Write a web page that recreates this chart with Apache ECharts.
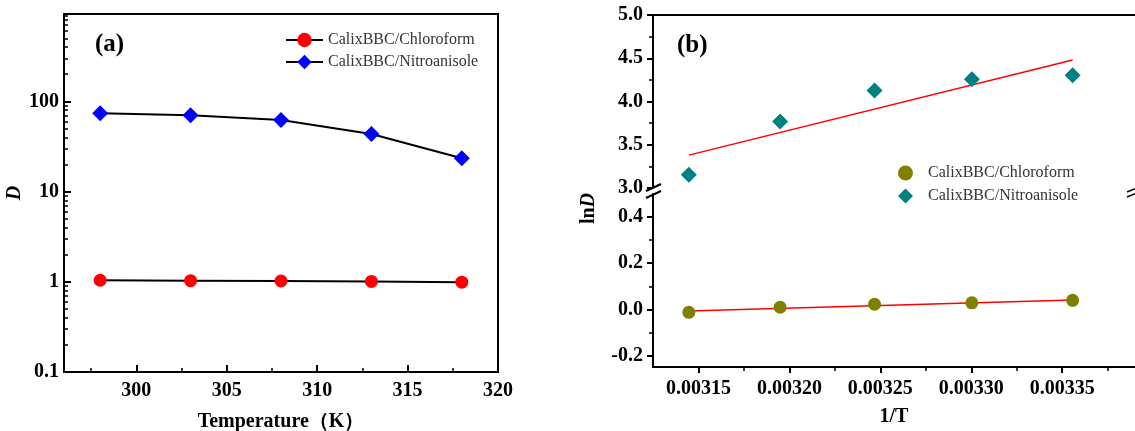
<!DOCTYPE html>
<html lang="en" style="height: 100%">
<head>
    <meta charset="UTF-8">
    <title>Distribution ratio D vs temperature</title>
    <script src="https://cdn.jsdelivr.net/npm/echarts@6/dist/echarts.min.js"></script>
</head>
<body style="height: 100%; margin: 0; background: #fff">
<div id="container" style="width: 1135px; height: 431px"></div>

<script type="text/javascript">
    // panel (a): D vs temperature
    var tempK = [298, 303, 308, 313, 318];
    var dChloroform = [1.04, 1.03, 1.02, 1.01, 0.99];
    var dNitro = [74, 70, 62, 43.5, 23.4];
    var tempTicks = [300, 305, 310, 315, 320];
    var tempMinor = [297.5, 302.5, 307.5, 312.5, 317.5];
    var dTicks = [0.1, 1, 10, 100];
    var dMinor = [0.2, 0.3, 0.4, 0.5, 0.6, 0.7, 0.8, 0.9, 2, 3, 4, 5, 6, 7, 8, 9,
        20, 30, 40, 50, 60, 70, 80, 90, 200, 300, 400, 500, 600, 700, 800, 900];

    // panel (b): lnD vs 1/T
    var invT = [0.0031447, 0.0031949, 0.0032468, 0.0033003, 0.0033557];
    var lnDChloroform = [-0.013, 0.009, 0.022, 0.028, 0.039];
    var lnDNitro = [3.153, 3.768, 4.126, 4.258, 4.304];
    var fitX = [0.0031447, 0.0033557];
    var fitChloroform = [-0.007, 0.040];
    var fitNitro = [3.38, 4.48];
    var invTTicks = [0.00315, 0.0032, 0.00325, 0.0033, 0.00335];
    var invTMinor = [0.003175, 0.003225, 0.003275, 0.003325, 0.003375];
    var lowTicks = [-0.2, 0, 0.2, 0.4];
    var lowMinor = [-0.1, 0.1, 0.3];

    var names = ['CalixBBC/Chloroform', 'CalixBBC/Nitroanisole'];
    var serif = '"Liberation Serif", "Times New Roman", serif';

    function pairs(xs, ys) {
        return xs.map(function (x, i) { return [x, ys[i]]; });
    }

    var labelStyle = {fontFamily: serif, fontWeight: 'bold', fontSize: 20, color: '#000'};
    var axisLine = {onZero: false, lineStyle: {color: '#000', width: 2}};
    var hiddenLine = {show: false, onZero: false};

    var dom = document.getElementById("container");
    var myChart = echarts.init(dom, null, {renderer: 'canvas'});

    var option = {
        backgroundColor: '#fff',
        animation: false,
        title: [
            {text: '(a)', left: 90, top: 27, textStyle: {fontFamily: serif, fontWeight: 'bold', fontSize: 25, color: '#000'}},
            {text: '(b)', left: 672, top: 28, textStyle: {fontFamily: serif, fontWeight: 'bold', fontSize: 25, color: '#000'}}
        ],
        legend: [
            {
                data: [names[0], names[1]],
                left: 285, top: 31, orient: 'vertical', padding: 0,
                itemWidth: 37, itemHeight: 18, itemGap: 4,
                textStyle: {fontFamily: serif, fontSize: 16, color: '#333', lineHeight: 18}
            },
            {
                data: [names[0] + ' ', names[1] + ' '],
                left: 898, top: 165, orient: 'vertical', padding: 0,
                itemWidth: 15, itemHeight: 15, itemGap: 7, symbolKeepAspect: true,
                textStyle: {fontFamily: serif, fontSize: 16, color: '#333', padding: [0, 0, 0, 10]}
            }
        ],
        grid: [
            {left: 64, top: 14, width: 434, height: 358, outerBoundsMode: 'none',
                show: true, borderColor: '#000', borderWidth: 2},
            {left: 653, top: 15, width: 482, height: 173, outerBoundsMode: 'none'},
            {left: 653, top: 194, width: 482, height: 173, outerBoundsMode: 'none'}
        ],
        xAxis: [
            {
                gridIndex: 0, type: 'value', min: 296, max: 320, position: 'bottom',
                name: 'Temperature（K）', nameLocation: 'middle', nameGap: 40,
                nameTextStyle: {fontFamily: serif, fontWeight: 'bold', fontSize: 20, color: '#000'},
                axisLine: axisLine,
                axisTick: {inside: true, length: 7, customValues: tempTicks, lineStyle: {color: '#000', width: 2}},
                axisLabel: Object.assign({margin: 9, customValues: tempTicks}, labelStyle),
                splitLine: {show: false}
            },
            {
                gridIndex: 0, type: 'value', min: 296, max: 320, position: 'bottom',
                axisLine: hiddenLine,
                axisTick: {inside: true, length: 4, customValues: tempMinor, lineStyle: {color: '#000', width: 1.5}},
                axisLabel: {show: false}, splitLine: {show: false}
            },
            {
                gridIndex: 1, type: 'value', min: 0.003125, max: 0.00339, position: 'top',
                axisLine: axisLine, axisTick: {show: false}, axisLabel: {show: false}, splitLine: {show: false}
            },
            {
                gridIndex: 2, type: 'value', min: 0.003125, max: 0.00339, position: 'bottom',
                name: '1/T', nameLocation: 'middle', nameGap: 40,
                nameTextStyle: {fontFamily: serif, fontWeight: 'bold', fontSize: 20, color: '#000'},
                axisLine: axisLine,
                axisTick: {length: 6, customValues: invTTicks, lineStyle: {color: '#000', width: 2}},
                axisLabel: Object.assign({margin: 12, customValues: invTTicks, formatter: function (v) { return v.toFixed(5); }}, labelStyle),
                splitLine: {show: false}
            },
            {
                gridIndex: 2, type: 'value', min: 0.003125, max: 0.00339, position: 'bottom',
                axisLine: hiddenLine,
                axisTick: {length: 4, customValues: invTMinor, lineStyle: {color: '#000', width: 1.5}},
                axisLabel: {show: false}, splitLine: {show: false}
            }
        ],
        yAxis: [
            {
                gridIndex: 0, type: 'log', logBase: 10, min: 0.1, max: 930, position: 'left',
                name: 'D', nameLocation: 'middle', nameGap: 39,
                nameTextStyle: {fontFamily: serif, fontWeight: 'bold', fontStyle: 'italic', fontSize: 20, color: '#000'},
                axisLine: axisLine,
                axisTick: {inside: true, length: 7, customValues: dTicks, lineStyle: {color: '#000', width: 2}},
                axisLabel: Object.assign({margin: 5, customValues: dTicks, formatter: function (v) { return String(v); }}, labelStyle),
                splitLine: {show: false}
            },
            {
                gridIndex: 0, type: 'log', logBase: 10, min: 0.1, max: 930, position: 'left',
                axisLine: hiddenLine,
                axisTick: {inside: true, length: 4, customValues: dMinor, lineStyle: {color: '#000', width: 1.5}},
                axisLabel: {show: false}, splitLine: {show: false}
            },
            {
                gridIndex: 1, type: 'value', min: 3.0, max: 5.0, interval: 0.5, position: 'left',
                axisLine: axisLine,
                axisTick: {length: 6, lineStyle: {color: '#000', width: 2}},
                minorTick: {show: true, splitNumber: 2, length: 4, lineStyle: {color: '#000', width: 1.5}},
                axisLabel: Object.assign({margin: 10, formatter: function (v) { return v.toFixed(1); }}, labelStyle),
                splitLine: {show: false}
            },
            {
                gridIndex: 2, type: 'value', min: -0.25, max: 0.5, position: 'left',
                name: '{a|ln}{b|D}', nameLocation: 'middle', nameGap: 54,
                nameTextStyle: {
                    padding: [0, 0, 0, 144],
                    rich: {
                        a: {fontFamily: serif, fontWeight: 'bold', fontSize: 20, color: '#000'},
                        b: {fontFamily: serif, fontWeight: 'bold', fontStyle: 'italic', fontSize: 20, color: '#000'}
                    }
                },
                axisLine: axisLine,
                axisTick: {length: 6, customValues: lowTicks, lineStyle: {color: '#000', width: 2}},
                axisLabel: Object.assign({margin: 10, customValues: lowTicks, formatter: function (v) { return v.toFixed(1); }}, labelStyle),
                splitLine: {show: false}
            },
            {
                gridIndex: 2, type: 'value', min: -0.25, max: 0.5, position: 'left',
                axisLine: hiddenLine,
                axisTick: {length: 4, customValues: lowMinor, lineStyle: {color: '#000', width: 1.5}},
                axisLabel: {show: false}, splitLine: {show: false}
            }
        ],
        series: [
            {
                name: names[0], type: 'line', xAxisIndex: 0, yAxisIndex: 0,
                data: pairs(tempK, dChloroform),
                symbol: 'circle', symbolSize: 13,
                itemStyle: {color: '#ff0000'},
                lineStyle: {color: '#000', width: 2}
            },
            {
                name: names[1], type: 'line', xAxisIndex: 0, yAxisIndex: 0,
                data: pairs(tempK, dNitro),
                symbol: 'diamond', symbolSize: 16,
                itemStyle: {color: '#0000ff'},
                lineStyle: {color: '#000', width: 2}
            },
            {
                name: names[0] + ' ', type: 'scatter', xAxisIndex: 3, yAxisIndex: 3,
                data: pairs(invT, lnDChloroform),
                symbol: 'circle', symbolSize: 13, z: 3,
                itemStyle: {color: '#808000', opacity: 1}
            },
            {
                name: names[1] + ' ', type: 'scatter', xAxisIndex: 2, yAxisIndex: 2,
                data: pairs(invT, lnDNitro),
                symbol: 'diamond', symbolSize: 16, z: 3,
                itemStyle: {color: '#008080', opacity: 1}
            },
            {
                name: 'fit1', type: 'line', xAxisIndex: 3, yAxisIndex: 3,
                data: pairs(fitX, fitChloroform), symbol: 'none',
                lineStyle: {color: '#ff0000', width: 1.5}
            },
            {
                name: 'fit2', type: 'line', xAxisIndex: 2, yAxisIndex: 2,
                data: pairs(fitX, fitNitro), symbol: 'none',
                lineStyle: {color: '#ff0000', width: 1.5}
            }
        ],
        graphic: [
            // axis break marks
            {type: 'line', shape: {x1: 646, y1: 191, x2: 661, y2: 184}, style: {stroke: '#000', lineWidth: 2}},
            {type: 'line', shape: {x1: 646, y1: 198, x2: 661, y2: 191}, style: {stroke: '#000', lineWidth: 2}},
            {type: 'line', shape: {x1: 1127, y1: 192, x2: 1137, y2: 188}, style: {stroke: '#000', lineWidth: 1.5}},
            {type: 'line', shape: {x1: 1127, y1: 197, x2: 1137, y2: 193}, style: {stroke: '#000', lineWidth: 1.5}}
        ]
    };
    myChart.setOption(option, true);
</script>
</body>
</html>
